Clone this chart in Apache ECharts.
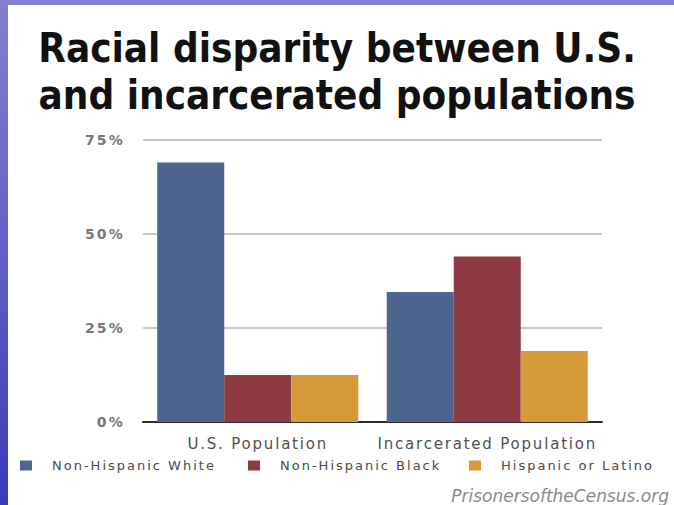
<!DOCTYPE html>
<html>
<head>
<meta charset="utf-8">
<script src="https://cdn.jsdelivr.net/npm/echarts@6/dist/echarts.min.js"></script>
<style>
  html, body { margin: 0; padding: 0; }
  body { width: 674px; height: 505px; overflow: hidden; background: #fff; }
  #frame-left { position: absolute; left: 0; top: 0; width: 8px; height: 505px;
    background: linear-gradient(#8480d0, #5a58c4 60%, #3b3ab8); }
  #frame-top { position: absolute; left: 0; top: 0; width: 674px; height: 5px; background: #8480d0; }
  #chart { position: absolute; left: 0; top: 0; width: 674px; height: 505px; }
  /* the source chart uses tracked-out lettering */
  #chart text { letter-spacing: 2px; }
  #chart text[style*="40px"] { letter-spacing: 0; }
  #chart text[style*="17px"] { letter-spacing: 0; }
  #chart text[style*="15px"] { letter-spacing: 1.8px; }
  #chart text[style*="14px"] { letter-spacing: 2.2px; }
</style>
</head>
<body>
<div id="chart"></div>
<div id="frame-left"></div>
<div id="frame-top"></div>
<script>
// categories and series (percent of population)
const categories = ['U.S. Population', 'Incarcerated Population'];
const whiteVals = [69, 34.6];
const blackVals = [12.5, 44];
const hispanicVals = [12.5, 18.9];
const yTicks = [0, 25, 50, 75];

const colors = {
  white: '#4c668f',
  black: '#8d3a43',
  hispanic: '#d79a38',
};

const chart = echarts.init(document.getElementById('chart'), null, { renderer: 'svg' });

const legendBase = {
  orient: 'horizontal',
  top: 459,
  padding: 0,
  itemWidth: 12,
  itemHeight: 10,
  icon: 'rect',
  textStyle: {
    color: '#4a4a4a',
    fontSize: 13,
    fontFamily: 'DejaVu Sans',
    padding: [0, 0, 0, 15],
  },
};

const option = {
  animation: false,
  backgroundColor: '#fff',
  title: [
    {
      text: 'Racial disparity between U.S.\nand incarcerated populations',
      left: 'center',
      top: 19,
      textStyle: {
        fontFamily: 'DejaVu Sans Condensed',
        fontWeight: 'bold',
        fontSize: 40,
        lineHeight: 47,
        color: '#111',
      },
    },
    {
      text: 'PrisonersoftheCensus.org',
      right: 0,
      top: 482,
      textStyle: {
        fontFamily: 'DejaVu Sans',
        fontStyle: 'italic',
        fontWeight: 'normal',
        fontSize: 17,
        color: '#8a8a8a',
      },
    },
  ],
  legend: [
    Object.assign({}, legendBase, { left: 20, data: ['Non-Hispanic White'] }),
    Object.assign({}, legendBase, { left: 248, data: ['Non-Hispanic Black'] }),
    Object.assign({}, legendBase, { left: 469, data: ['Hispanic or Latino'] }),
  ],
  grid: {
    left: 143,
    right: 72,
    top: 140,
    bottom: 83,
    containLabel: false,
  },
  xAxis: {
    type: 'category',
    data: categories,
    axisLine: { lineStyle: { color: '#2b2b33', width: 2 } },
    axisTick: { show: false },
    axisLabel: {
      interval: 0,
      color: '#505050',
      fontSize: 15,
      fontFamily: 'DejaVu Sans',
      margin: 14,
    },
  },
  yAxis: {
    type: 'value',
    min: 0,
    max: 75,
    interval: 25,
    axisLine: { show: false },
    axisTick: { show: false },
    splitLine: { lineStyle: { color: '#c8c8c8', width: 2 } },
    axisLabel: {
      color: '#777',
      fontSize: 14,
      fontWeight: 'bold',
      fontFamily: 'DejaVu Sans',
      margin: 18,
      formatter(value) {
        return yTicks.indexOf(value) >= 0 ? `${value}%` : '';
      },
    },
  },
  series: [
    {
      name: 'Non-Hispanic White',
      type: 'bar',
      data: whiteVals,
      barGap: '0%',
      barCategoryGap: '12.4%',
      itemStyle: { color: colors.white },
    },
    {
      name: 'Non-Hispanic Black',
      type: 'bar',
      data: blackVals,
      itemStyle: { color: colors.black },
    },
    {
      name: 'Hispanic or Latino',
      type: 'bar',
      data: hispanicVals,
      itemStyle: { color: colors.hispanic },
    },
  ],
};

chart.setOption(option);
</script>
</body>
</html>
